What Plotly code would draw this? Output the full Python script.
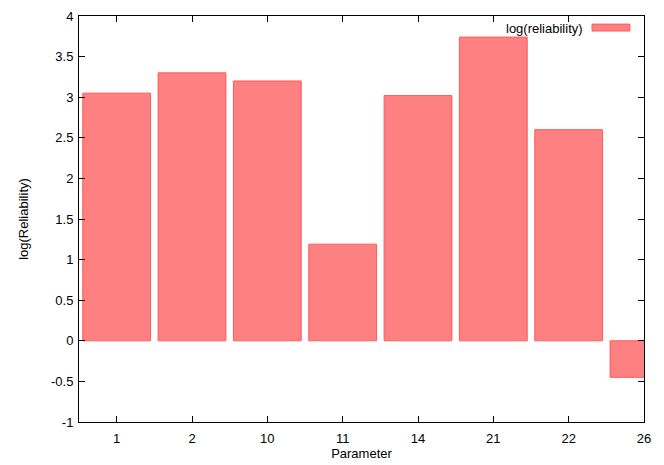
import plotly.graph_objects as go

categories = ["1", "2", "10", "11", "14", "21", "22", "26"]
log_reliability = [3.05, 3.30, 3.20, 1.19, 3.02, 3.74, 2.60, -0.45]
y_ticks = [-1, -0.5, 0, 0.5, 1, 1.5, 2, 2.5, 3, 3.5, 4]
y_tick_text = ["-1", "-0.5", "0", "0.5", "1", "1.5", "2", "2.5", "3", "3.5", "4"]
series_name = "log(reliability)"

positions = list(range(len(categories)))
X_RANGE = [-0.5, 7]
Y_RANGE = [-1, 4]

FONT = "Liberation Sans, Arial, sans-serif"
FS = 13

fig = go.Figure()
fig.add_trace(go.Bar(
    x=positions,
    y=log_reliability,
    width=0.9,
    name=series_name,
    marker=dict(color="#ff8080", line=dict(color="#ff5a5a", width=1)),
    showlegend=False,
))

fig.update_xaxes(
    range=X_RANGE, tickmode="array", tickvals=positions, ticktext=categories,
    showline=True, linecolor="rgb(0,0,0)", linewidth=1, mirror="ticks",
    ticks="inside", ticklen=6, tickwidth=1, tickcolor="rgb(0,0,0)",
    showgrid=False, zeroline=False, automargin=False,
    tickfont=dict(family=FONT, size=FS, color="black"),
    ticklabelstandoff=4,
    title=dict(text="Parameter", font=dict(family=FONT, size=FS, color="black"), standoff=3),
)
fig.update_yaxes(
    range=Y_RANGE, tickmode="array", tickvals=y_ticks, ticktext=y_tick_text,
    showline=True, linecolor="rgb(0,0,0)", linewidth=1, mirror="ticks",
    ticks="inside", ticklen=6, tickwidth=1, tickcolor="rgb(0,0,0)",
    showgrid=False, zeroline=False, automargin=False,
    tickfont=dict(family=FONT, size=FS, color="black"),
    ticklabelstandoff=2,
    title=dict(text="log(Reliability)", font=dict(family=FONT, size=FS, color="black"), standoff=19),
)

# gnuplot-style key: label then swatch, top right
fig.add_annotation(
    xref="paper", yref="paper", x=0.8956, y=0.970, xanchor="right", yanchor="middle",
    text=series_name, showarrow=False, font=dict(family=FONT, size=FS, color="black"),
)
fig.add_shape(
    type="rect", xref="paper", yref="paper", x0=0.908, x1=0.975, y0=0.963, y1=0.980,
    fillcolor="#ff8080", line=dict(color="#ff5a5a", width=1),
)

fig.update_layout(
    width=648, height=457,
    margin=dict(l=71, r=12, t=8, b=43),
    plot_bgcolor="white", paper_bgcolor="white",
    font=dict(family=FONT, size=FS, color="black"),
)

fig.write_html("out.html")
